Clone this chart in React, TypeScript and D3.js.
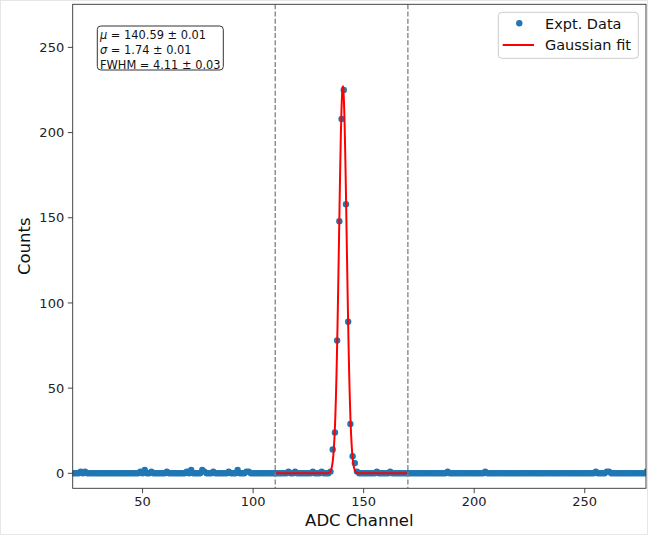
import React from "react";
import * as d3 from "d3";

// ---- Data ----
const channelStart = 10;
const channelEnd = 290;
// channels with non-zero counts (all other channels read as 0)
const peakChannels = [136, 137, 138, 139, 140, 141, 142, 143, 144, 145, 146];
const peakCounts = [14, 24, 78, 148, 208, 225, 158, 89, 29, 10, 6];
const smallChannels = [22, 24, 49, 51, 54, 61, 70, 72, 77, 78, 82, 89, 93, 97, 98, 116, 119, 127, 131, 135, 147, 156, 162, 188, 205, 255, 260, 261, 278];
const smallCounts = [1, 1, 1, 2, 1, 1, 1, 2, 2, 1, 1, 1, 2, 1, 1, 1, 1, 1, 1, 1, 1, 1, 1, 1, 1, 1, 1, 1, 1];

// Gaussian fit parameters
const fitAmp = 227;
const fitMu = 140.59;
const fitSigma = 1.74;
const fitRange = [110, 170];
const regionLines = [110, 170];

const xTicks = [50, 100, 150, 200, 250];
const yTicks = [0, 50, 100, 150, 200, 250];
const annotLines = [
  { sym: "μ", rest: " = 140.59 ± 0.01", italic: true },
  { sym: "σ", rest: " = 1.74 ± 0.01", italic: true },
  { sym: "FWHM", rest: " = 4.11 ± 0.03", italic: false },
];

const W = 648;
const H = 535;
const M = { left: 72.7, right: 646, top: 4.3, bottom: 488.3 };
const FONT = "DejaVu Sans, sans-serif";

export default function App() {
  const x = d3.scaleLinear().domain([18.4, 277.7]).range([M.left, M.right]);
  const y = d3.scaleLinear().domain([-8.8, 275.3]).range([M.bottom, M.top]);

  const counts = new Map<number, number>();
  smallChannels.forEach((c, i) => counts.set(c, smallCounts[i]));
  peakChannels.forEach((c, i) => counts.set(c, peakCounts[i]));
  const points: [number, number][] = d3
    .range(channelStart, channelEnd + 1)
    .map((c) => [c, counts.get(c) ?? 0]);

  const fitX = d3.range(fitRange[0], fitRange[1] + 0.0001, 0.05);
  const gauss = (v: number) =>
    fitAmp * Math.exp(-((v - fitMu) ** 2) / (2 * fitSigma * fitSigma));
  const line = d3
    .line<number>()
    .x((v) => x(v))
    .y((v) => y(gauss(v)));

  return (
    <div style={{ position: "absolute", left: 0, top: 0 }}>
      <svg width={W} height={H} style={{ display: "block", fontFamily: FONT }}>
        <rect x={0.5} y={0.5} width={W - 1} height={H - 1} fill="white" stroke="#e6e6e6" />
        <defs>
          <clipPath id="plotclip">
            <rect x={M.left} y={M.top} width={M.right - M.left} height={M.bottom - M.top} />
          </clipPath>
        </defs>
        <g clipPath="url(#plotclip)">
          {points.map(([c, v]) => (
            <circle key={c} cx={x(c)} cy={y(v)} r={3.2} fill="#1f77b4" />
          ))}
          <path d={line(fitX) ?? ""} fill="none" stroke="#ff0000" strokeWidth={2} />
          {regionLines.map((v) => (
            <line
              key={v}
              x1={x(v)}
              x2={x(v)}
              y1={M.top}
              y2={M.bottom}
              stroke="#7f7f7f"
              strokeWidth={1.3}
              strokeDasharray="5,2.2"
            />
          ))}
        </g>
        {/* spines */}
        <rect
          x={M.left}
          y={M.top}
          width={M.right - M.left}
          height={M.bottom - M.top}
          fill="none"
          stroke="#333"
          strokeWidth={0.9}
        />
        {/* x ticks */}
        {xTicks.map((t) => (
          <g key={t}>
            <line x1={x(t)} x2={x(t)} y1={M.bottom} y2={M.bottom + 4.9} stroke="#333" strokeWidth={0.9} />
            <text x={x(t)} y={M.bottom + 17.5} fontSize={13} textAnchor="middle" fill="#222">
              {t}
            </text>
          </g>
        ))}
        {/* y ticks */}
        {yTicks.map((t) => (
          <g key={t}>
            <line x1={M.left - 4.9} x2={M.left} y1={y(t)} y2={y(t)} stroke="#333" strokeWidth={0.9} />
            <text x={M.left - 8.5} y={y(t)} dy="0.36em" fontSize={13} textAnchor="end" fill="#222">
              {t}
            </text>
          </g>
        ))}
        <text x={(M.left + M.right) / 2} y={526} fontSize={16.5} textAnchor="middle" fill="#111">
          ADC Channel
        </text>
        <text
          transform={`translate(30,${(M.top + M.bottom) / 2}) rotate(-90)`}
          fontSize={16.5}
          textAnchor="middle"
          fill="#111"
        >
          Counts
        </text>

        {/* annotation box */}
        <rect x={97.3} y={26} width={126} height={44} rx={3.5} fill="white" stroke="#333" strokeWidth={1} />
        {annotLines.map((l, i) => (
          <text key={i} x={100} y={38.5 + i * 15} fontSize={11.4} fill="#111">
            <tspan fontStyle={l.italic ? "italic" : "normal"}>{l.sym}</tspan>
            <tspan>{l.rest}</tspan>
          </text>
        ))}

        {/* legend */}
        <rect x={498.3} y={12.3} width={140} height={46} rx={3.5} fill="white" fillOpacity={0.8} stroke="#cccccc" strokeWidth={1} />
        <circle cx={519.3} cy={23.3} r={3.2} fill="#1f77b4" />
        <text x={545} y={23.3} dy="0.36em" fontSize={14.5} fill="#111">
          Expt. Data
        </text>
        <line x1={502.7} x2={534} y1={45} y2={45} stroke="#ff0000" strokeWidth={2} />
        <text x={545} y={45} dy="0.36em" fontSize={14.5} fill="#111">
          Gaussian fit
        </text>
      </svg>
    </div>
  );
}
